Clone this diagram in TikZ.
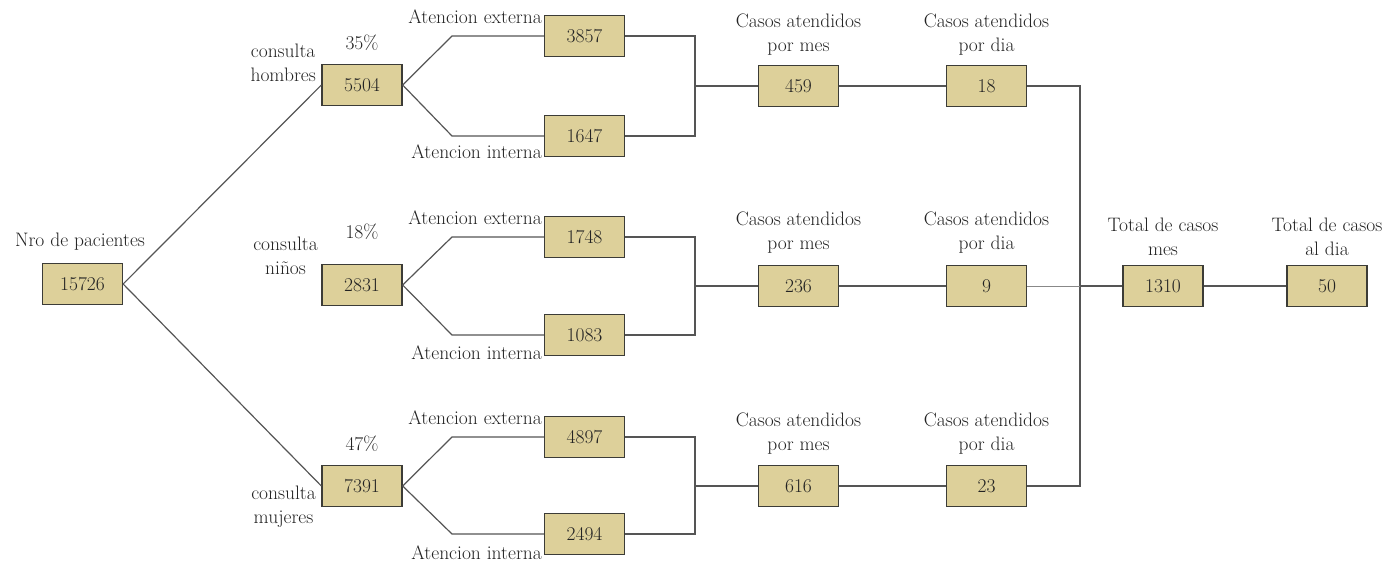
\documentclass[tikz,border=0pt]{standalone}
\definecolor{boxfill}{RGB}{221,208,154}
\definecolor{boxline}{RGB}{60,60,55}
\definecolor{conn}{RGB}{85,85,85}
\definecolor{txt}{RGB}{35,35,35}
\begin{document}
\begin{tikzpicture}[x=1pt,y=-1pt,
  box/.style={draw=boxline,fill=boxfill,line width=1.3pt,minimum width=80pt,minimum height=41pt,inner sep=0pt,text=txt,font=\fontsize{19.5}{22}\selectfont},
  lbl/.style={font=\fontsize{19.5}{24}\selectfont,inner sep=0pt,align=center,text=txt},
  link/.style={draw=conn,line width=1.2pt},
  thin/.style={draw=conn!70,line width=0.8pt}]
\useasboundingbox (0,0) rectangle (1392,564);
% boxes
\node[box] (p) at (82.5,284) {15726};
\node[box] (h) at (362,85) {5504};
\node[box] (n) at (362,285) {2831};
\node[box] (m) at (362,486) {7391};
\node[box] (he) at (584.5,36) {3857};
\node[box] (hi) at (584.5,136) {1647};
\node[box] (ne) at (584.5,237) {1748};
\node[box] (ni) at (584.5,335) {1083};
\node[box] (me) at (584.5,437) {4897};
\node[box] (mi) at (584.5,534) {2494};
\node[box] (hm) at (798.5,86) {459};
\node[box] (nm) at (798.5,286) {236};
\node[box] (mm) at (798.5,486) {616};
\node[box] (hd) at (986.5,86) {18};
\node[box] (nd) at (986.5,286) {9};
\node[box] (md) at (986.5,486) {23};
\node[box] (tm) at (1163,286) {1310};
\node[box] (td) at (1327,286) {50};
% labels
\node[lbl] (lp) at (80,242) {Nro de pacientes};
\node[lbl,anchor=east] (lh) at (316,63) {consulta\\hombres};
\node[lbl,anchor=east] (ln) at (318,256) {consulta\\niños};
\node[lbl,anchor=east] (lm) at (316,507) {consulta\\mujeres};
\node[lbl] (ph) at (362,43) {35\%};
\node[lbl] (pn) at (362,232) {18\%};
\node[lbl] (pm) at (362,444) {47\%};
\node[lbl,anchor=east] (lhe) at (542,17) {Atencion externa};
\node[lbl,anchor=east] (lhi) at (542,152) {Atencion interna};
\node[lbl,anchor=east] (lne) at (542,218) {Atencion externa};
\node[lbl,anchor=east] (lni) at (542,353) {Atencion interna};
\node[lbl,anchor=east] (lme) at (542,418) {Atencion externa};
\node[lbl,anchor=east] (lmi) at (542,553) {Atencion interna};
\node[lbl] (lhm) at (798.5,35) {Casos atendidos\\por mes};
\node[lbl] (lnm) at (798.5,233) {Casos atendidos\\por mes};
\node[lbl] (lmm) at (798.5,434) {Casos atendidos\\por mes};
\node[lbl] (lhd) at (986.5,35) {Casos atendidos\\por dia};
\node[lbl] (lnd) at (986.5,233) {Casos atendidos\\por dia};
\node[lbl] (lmd) at (986.5,434) {Casos atendidos\\por dia};
\node[lbl] (ltm) at (1163,237) {Total de casos\\mes};
\node[lbl] (ltd) at (1327,237) {Total de casos\\al dia};
% junction coordinates
\coordinate (jh) at (695,86);
\coordinate (jn) at (695,286);
\coordinate (jm) at (695,486);
\coordinate (jt) at (1080,286);
% connectors
\draw[link] (p.east) -- (h.west);
\draw[link] (p.east) -- (m.west);
\foreach \s/\e/\i in {h/he/hi,n/ne/ni,m/me/mi}{
  \draw[link] (\s.east) -- (452,0 |- \e.west) -- (\e.west);
  \draw[link] (\s.east) -- (452,0 |- \i.west) -- (\i.west);
}
\foreach \e/\i/\j/\c in {he/hi/jh/hm,ne/ni/jn/nm,me/mi/jm/mm}{
  \draw[link] (\e.east) -- (\e.east -| \j) -- (\i.east -| \j) -- (\i.east);
  \draw[link,line width=1.6pt] (\j) -- (\c.west);
}
\draw[link,line width=1.6pt] (hm) -- (hd);
\draw[link] (nm) -- (nd);
\draw[link,line width=1.6pt] (mm) -- (md);
\draw[link] (hd.east) -- (hd.east -| jt) -- (md.east -| jt) -- (md.east);
\draw[thin] (nd) -- (jt);
\draw[link] (jt) -- (tm);
\draw[link] (tm) -- (td);
\end{tikzpicture}
\end{document}
